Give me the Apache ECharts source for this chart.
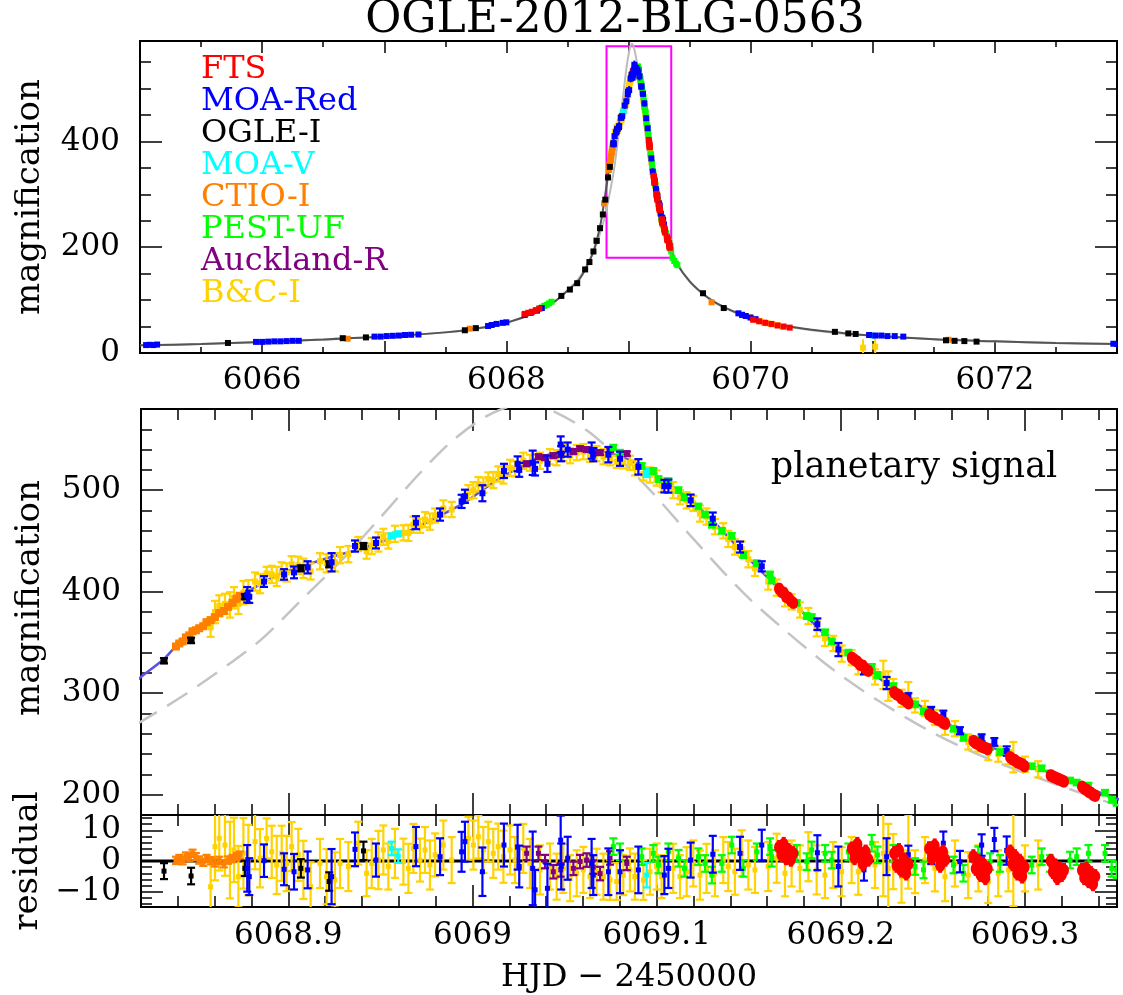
<!DOCTYPE html>
<html>
<head>
<meta charset="utf-8">
<title>OGLE-2012-BLG-0563</title>
<script src="https://cdn.jsdelivr.net/npm/echarts@6.0.0/dist/echarts.min.js"></script>
<style>
  html, body { margin: 0; padding: 0; background: #fff; }
  #chart { width: 1123px; height: 995px; }
</style>
</head>
<body>
<div id="chart"></div>
<script>
// axis ranges
const topT = [6065, 6073];
const topA = [0, 590];
const zoomT = [6068.82, 6069.35];
const zoomA = [180, 580];
const resR = [-15, 15];

// planetary model
const modelT = [6065.0, 6065.5, 6066.0, 6066.5, 6067.0, 6067.5, 6067.75, 6068.0, 6068.25, 6068.4, 6068.5, 6068.6,
  6068.7, 6068.75, 6068.78, 6068.8, 6068.82, 6068.832, 6068.8385, 6068.8557, 6068.8646, 6068.8755, 6068.8863,
  6068.8972, 6068.910, 6068.9227, 6068.937, 6068.950, 6068.9644, 6068.977, 6068.995, 6069.006, 6069.017,
  6069.0314, 6069.044, 6069.0586, 6069.071, 6069.0874, 6069.1057, 6069.1184, 6069.131, 6069.1455, 6069.158,
  6069.171, 6069.1872, 6069.200, 6069.2144, 6069.2325, 6069.2505, 6069.2688, 6069.2868, 6069.3048, 6069.323,
  6069.350, 6069.4, 6069.5, 6069.6, 6069.7, 6069.8, 6069.9, 6070.0, 6070.25, 6070.5, 6070.75, 6071.0, 6071.5,
  6072.0, 6072.5, 6073.0];
const modelA = [14.5, 17, 21, 25.5, 31, 39, 46, 57, 78, 98, 118, 140,
  184, 222, 255, 285, 316, 333, 345, 369, 382, 397, 409,
  419, 426.5, 434, 441, 449, 459, 470, 487, 501, 514,
  528, 536.5, 540.5, 538, 528, 507, 490, 469, 441, 418,
  395, 365, 343, 323, 300, 279, 258, 243, 228, 215,
  196, 168, 136, 114, 97, 85, 75, 67, 53, 44, 38, 33, 26,
  22, 19, 17];

// single-lens (no planet) model
const pointT = [6065.0, 6065.5, 6066.0, 6066.5, 6067.0, 6067.5, 6067.75, 6068.0, 6068.25, 6068.4, 6068.5, 6068.6,
  6068.7, 6068.75, 6068.8, 6068.82, 6068.845, 6068.868, 6068.886, 6068.91, 6068.93, 6068.948, 6068.97, 6068.988,
  6069.004, 6069.016, 6069.028, 6069.04, 6069.062, 6069.082, 6069.098, 6069.117, 6069.147, 6069.171, 6069.196,
  6069.22, 6069.25, 6069.278, 6069.305, 6069.341, 6069.35, 6069.4, 6069.5, 6069.6, 6069.7, 6069.8, 6069.9,
  6070.0, 6070.25, 6070.5, 6070.75, 6071.0, 6071.5, 6072.0, 6072.5, 6073.0];
const pointA = [14.5, 17, 21, 25.5, 31, 39, 46, 57, 78, 98, 118, 143,
  185, 214, 252, 272, 300, 329, 354, 397, 433, 469, 514, 547,
  569, 580, 585, 581, 559, 527, 497, 458, 399, 360, 323,
  293, 261, 237, 218, 195, 190, 167, 135, 113, 96, 84, 74,
  66, 52, 43, 37, 33, 26, 22, 19, 17];

// data inside the zoom window: [HJD-2450000, magnification, error, residual]
const ftsData = [
  [6069.1665, 403, 2, 4.5], [6069.1678, 400, 2, 2.0], [6069.1690, 399, 2, 5.5], [6069.1703, 395, 2, 1.0],
  [6069.1716, 394, 2, 3.5], [6069.1729, 391, 2, 0.5], [6069.1742, 389, 2, 2.5],
  [6069.2060, 335, 2, 4.0], [6069.2075, 333, 2, 1.0], [6069.2090, 331, 2, 5.5], [6069.2105, 328, 2, 2.5],
  [6069.2120, 327, 2, -1.0], [6069.2135, 324, 2, 3.0], [6069.2150, 322, 2, 0.5],
  [6069.2290, 301, 2, 2.5], [6069.2303, 299, 2, -1.5], [6069.2316, 298, 2, 3.5], [6069.2329, 295, 2, -3.0],
  [6069.2342, 294, 2, 0.5], [6069.2355, 292, 2, -4.0], [6069.2368, 290, 2, -1.0],
  [6069.2480, 279, 2, 4.0], [6069.2495, 277, 2, 1.0], [6069.2510, 276, 2, 5.0], [6069.2525, 274, 2, 2.0],
  [6069.2540, 273, 2, -1.5], [6069.2555, 271, 2, 3.0], [6069.2568, 270, 2, 0.5],
  [6069.2720, 253, 2, 1.5], [6069.2733, 251, 2, -2.5], [6069.2746, 250, 2, 0.0], [6069.2759, 248, 2, -4.5],
  [6069.2772, 247, 2, -1.0], [6069.2785, 246, 2, -5.5], [6069.2798, 245, 2, -2.5],
  [6069.2920, 237, 2, 3.0], [6069.2933, 235, 2, -1.0], [6069.2946, 234, 2, 1.5], [6069.2959, 232, 2, -4.0],
  [6069.2972, 231, 2, 0.0], [6069.2985, 230, 2, -5.0], [6069.2998, 228, 2, -2.0],
  [6069.3140, 219, 2, 0.0], [6069.3152, 218, 2, -3.5], [6069.3164, 217, 2, -1.5], [6069.3176, 216, 2, -5.5],
  [6069.3188, 215, 2, -2.5], [6069.3200, 214, 2, -4.5], [6069.3212, 213, 2, -3.0],
  [6069.3310, 208, 2, -3.0], [6069.3322, 206, 2, -5.5], [6069.3334, 205, 2, -2.5], [6069.3346, 203, 2, -6.5],
  [6069.3358, 202, 2, -4.0], [6069.3370, 200, 2, -7.5], [6069.3382, 199, 2, -5.0]
];
const moaRedData = [
  [6068.8777, 397, 7.6, -2.4], [6068.8788, 395, 6.0, -5.1], [6068.8868, 410, 5.3, 0.1], [6068.8977, 417, 5.2, -2.7],
  [6068.9031, 419, 5.8, -3.5], [6068.9105, 424, 6.0, -2.9], [6068.9235, 429, 9.0, -5.1], [6068.9362, 445, 5.5, 3.8],
  [6068.9476, 448, 5.4, 0.3], [6068.9693, 468, 6.4, 4.7], [6068.9824, 476, 6.0, 1.4], [6068.9941, 489, 6.5, 3.0],
  [6068.9959, 494, 6.5, 6.3], [6069.0054, 497, 7.9, -3.5], [6069.0171, 519, 7.0, 5.2], [6069.0245, 526, 7.3, 4.5],
  [6069.0254, 520, 6.8, -1.8], [6069.0327, 527, 12.0, -2.4], [6069.0340, 521, 6.5, -9.4], [6069.0407, 526, 8.0, -8.9],
  [6069.0479, 545, 8.0, 6.8], [6069.0482, 536, 7.5, -1.8], [6069.0517, 540, 7.0, 0.9], [6069.0647, 539, 8.0, -0.8],
  [6069.0656, 535, 6.5, -4.6], [6069.0738, 535, 7.6, -3.5], [6069.0801, 531, 7.0, -3.5], [6069.0901, 523, 7.6, -2.9],
  [6069.1042, 504, 6.2, -4.6], [6069.1064, 504, 6.4, -2.4], [6069.1185, 490, 5.7, 0.3], [6069.1305, 472, 6.0, 2.2],
  [6069.1453, 444, 5.4, 2.5], [6069.1571, 425, 5.0, 5.2], [6069.1873, 368, 5.7, 2.7], [6069.1987, 343, 6.5, -1.8],
  [6069.2126, 322, 3.5, -2.9], [6069.2249, 310, 6.0, 1.4], [6069.2367, 297, 3.0, 2.0], [6069.2491, 283, 3.5, 2.5],
  [6069.2557, 279, 3.8, 5.8], [6069.2647, 263, 3.5, -0.2], [6069.2765, 256, 3.5, 5.2], [6069.2834, 252, 3.8, 7.0],
  [6069.2901, 243, 4.6, 3.4]
];
const ogleData = [
  [6068.8325, 332, 2.6, -3.3], [6068.8472, 352, 2.7, -4.9], [6068.8764, 395, 2.5, -2.4],
  [6068.9068, 423, 3.0, -2.4], [6068.9222, 427, 3.0, -6.7], [6068.9408, 445, 3.0, 3.3]
];
const moaVData = [
  [6068.9561, 455, 2.2, 4.1], [6068.9597, 457, 2.2, 1.6], [6069.0946, 517, 4.0, -4.6]
];
const ctioData = [
  [6068.8390, 346, 1.2, 0.2], [6068.8408, 349, 1.2, 0.8], [6068.8426, 351, 1.2, 0.1], [6068.8444, 355, 1.2, 1.6],
  [6068.8462, 357, 1.2, 1.1], [6068.8480, 361, 1.2, 2.5], [6068.8498, 362, 1.2, 1.4], [6068.8516, 364, 1.2, 0.3],
  [6068.8538, 366, 1.2, -0.4], [6068.8556, 370, 1.2, 0.8], [6068.8578, 372, 1.2, 0.1], [6068.8601, 375, 1.2, -0.6],
  [6068.8625, 379, 1.2, 0.2], [6068.8650, 381, 1.2, -0.9], [6068.8673, 385, 1.2, 0.3], [6068.8697, 389, 1.2, 0.8],
  [6068.8719, 393, 1.2, 1.4], [6068.8737, 396, 1.2, 1.9]
];
const pestData = [
  [6069.0765, 542, 2.7, 4.7], [6069.0801, 537, 2.7, 3.0], [6069.0919, 524, 2.7, 1.4], [6069.0982, 519, 2.7, 2.5],
  [6069.1010, 511, 2.7, -1.3], [6069.1064, 509, 2.7, 3.0], [6069.1119, 500, 2.7, 0.9], [6069.1151, 493, 2.7, -2.4],
  [6069.1227, 484, 2.7, 1.4], [6069.1263, 476, 2.7, -0.8], [6069.1300, 466, 2.7, -4.6], [6069.1354, 460, 2.7, -0.8],
  [6069.1408, 455, 2.7, 5.2], [6069.1471, 436, 2.7, -2.4], [6069.1544, 428, 2.7, 3.0], [6069.1616, 417, 2.7, 4.7],
  [6069.1625, 411, 2.7, 0.9], [6069.1761, 389, 2.7, 2.5], [6069.1815, 376, 2.7, -0.2], [6069.1842, 375, 2.7, 3.6],
  [6069.1915, 360, 2.7, 2.5], [6069.1951, 351, 2.7, 0.3], [6069.2041, 340, 2.7, 3.0], [6069.2168, 326, 2.7, 5.8],
  [6069.2199, 318, 2.7, 2.0], [6069.2286, 307, 2.7, 2.5], [6069.2403, 289, 2.7, -1.8], [6069.2449, 282, 2.7, -2.9],
  [6069.2612, 265, 2.7, -1.3], [6069.2666, 256, 2.7, -4.0], [6069.2747, 254, 2.7, 2.0], [6069.2811, 247, 2.7, -0.2],
  [6069.2865, 242, 2.7, -0.8], [6069.2983, 231, 2.7, -2.4], [6069.3037, 228, 2.7, -1.3], [6069.3091, 226, 2.7, 1.4],
  [6069.3136, 221, 2.7, -0.8], [6069.3245, 214, 2.7, 0.3], [6069.3281, 212, 2.7, 1.4], [6069.3345, 209, 2.7, 2.5],
  [6069.3435, 202, 2.7, 2.5], [6069.3471, 195, 2.7, -2.4], [6069.3498, 192, 2.7, -2.9]
];
const aucklandData = [
  [6069.0294, 526, 2.2, 2.5], [6069.0358, 533, 2.2, 2.5], [6069.0394, 532, 2.2, -0.2], [6069.0439, 534, 2.2, -3.5],
  [6069.0479, 535, 2.2, -2.9], [6069.0548, 538, 2.2, -2.4], [6069.0584, 541, 2.2, -0.2], [6069.0620, 540, 2.2, 0.3],
  [6069.0656, 539, 2.2, -2.0], [6069.0693, 537, 2.2, -4.1], [6069.0747, 540, 2.2, 1.0], [6069.0838, 536, 2.2, -0.8]
];
const bcData = [
  [6068.8578, 365, 9.5, -8.4], [6068.8602, 380, 11.0, 4.7], [6068.8625, 386, 10.5, 7.4], [6068.8656, 388, 10.0, 5.2],
  [6068.8683, 387, 12.5, 0.3], [6068.8705, 394, 10.5, 3.6], [6068.8729, 388, 10.0, -5.1], [6068.8756, 399, 11.5, 2.5],
  [6068.8783, 400, 11.5, 0.3], [6068.8819, 410, 9.0, 6.3], [6068.8846, 408, 9.5, 0.9], [6068.8882, 418, 6.5, 7.4],
  [6068.8910, 417, 8.5, 3.0], [6068.8937, 415, 9.5, -1.3], [6068.8964, 420, 9.0, 2.5], [6068.8991, 419, 9.0, -0.8],
  [6068.9018, 427, 8.0, 4.7], [6068.9054, 426, 8.5, 2.0], [6068.9082, 423, 9.5, -2.9], [6068.9121, 420, 8.0, -8.4],
  [6068.9172, 430, 8.0, -0.8], [6068.9208, 428, 9.0, -5.1], [6068.9253, 429, 9.0, -6.2], [6068.9281, 436, 8.0, -0.8],
  [6068.9326, 437, 8.0, -1.8], [6068.9380, 447, 7.0, 5.8], [6068.9425, 440, 7.5, -4.0], [6068.9453, 445, 8.0, -0.8],
  [6068.9489, 449, 9.5, 0.3], [6068.9516, 454, 8.0, 3.6], [6068.9543, 450, 7.5, -1.8], [6068.9579, 457, 8.0, 2.5],
  [6068.9625, 458, 7.5, -0.2], [6068.9652, 458, 8.0, -2.4], [6068.9679, 466, 8.0, 4.1], [6068.9715, 465, 7.0, 0.3],
  [6068.9742, 471, 7.5, 3.6], [6068.9769, 469, 8.0, -1.3], [6068.9797, 475, 7.0, 2.0], [6068.9842, 482, 8.0, 5.2],
  [6068.9887, 481, 7.5, 0.3], [6068.9978, 498, 7.0, 7.4], [6069.0005, 500, 8.0, 5.2], [6069.0032, 506, 7.0, 7.9],
  [6069.0059, 505, 7.5, 3.6], [6069.0086, 511, 6.5, 6.3], [6069.0113, 510, 8.0, 2.5], [6069.0140, 516, 7.5, 4.7],
  [6069.0168, 515, 8.5, 1.4], [6069.0204, 522, 8.0, 3.6], [6069.0231, 521, 7.5, 0.3], [6069.0276, 529, 8.0, 4.1],
  [6069.0312, 527, 8.0, -0.8], [6069.0367, 529, 8.0, -2.9], [6069.0421, 533, 7.5, -1.8], [6069.0457, 532, 7.5, -5.1],
  [6069.0493, 537, 8.0, -2.4], [6069.0530, 534, 7.5, -5.6], [6069.0566, 537, 7.5, -4.0], [6069.0602, 538, 7.5, -2.9],
  [6069.0638, 535, 7.0, -5.1], [6069.0674, 536, 7.5, -3.5], [6069.0711, 533, 7.5, -5.1], [6069.0747, 531, 6.5, -6.2],
  [6069.0783, 528, 6.0, -6.7], [6069.0819, 528, 6.5, -4.6], [6069.0855, 527, 7.0, -2.9], [6069.0882, 522, 7.5, -5.1],
  [6069.0928, 516, 6.5, -6.2], [6069.0964, 515, 7.5, -3.5], [6069.1000, 512, 7.5, -1.8], [6069.1027, 505, 7.0, -5.1],
  [6069.1090, 500, 8.0, -2.4], [6069.1127, 493, 7.0, -5.1], [6069.1163, 490, 8.0, -3.5], [6069.1199, 487, 7.5, -0.8],
  [6069.1235, 477, 8.0, -4.6], [6069.1271, 474, 8.0, -2.4], [6069.1317, 464, 7.5, -4.0], [6069.1362, 460, 7.5, 0.3],
  [6069.1389, 452, 8.0, -1.8], [6069.1425, 444, 7.5, -3.5], [6069.1462, 442, 7.5, 2.5], [6069.1498, 432, 8.0, -1.3],
  [6069.1534, 423, 7.5, -2.9], [6069.1606, 410, 8.0, -1.8], [6069.1652, 404, 8.0, 0.9], [6069.1697, 393, 7.5, -4.0],
  [6069.1733, 390, 7.5, -0.8], [6069.1778, 382, 7.5, -2.4], [6069.1824, 376, 8.0, 1.4], [6069.1869, 364, 8.0, -2.9],
  [6069.1914, 354, 7.5, -4.6], [6069.1959, 349, 7.5, -1.3], [6069.2005, 339, 8.0, -3.5], [6069.2059, 335, 7.5, 0.3],
  [6069.2095, 326, 7.5, -3.5], [6069.2186, 316, 7.5, -1.3], [6069.2231, 318, 14.0, 2.5], [6069.2258, 307, 14.5, -2.4],
  [6069.2285, 305, 9.0, -0.2], [6069.2330, 295, 8.5, -5.1], [6069.2367, 299, 12.0, 3.0], [6069.2403, 288, 7.0, -3.5],
  [6069.2457, 285, 7.5, 0.3], [6069.2511, 276, 7.5, -2.4], [6069.2566, 267, 8.0, -5.1], [6069.2620, 265, 7.5, -0.8],
  [6069.2692, 252, 7.5, -4.6], [6069.2747, 250, 7.5, -2.4], [6069.2801, 241, 7.0, -6.7], [6069.2855, 240, 7.5, -4.0],
  [6069.2910, 237, 7.0, -2.9], [6069.2937, 237, 15.0, 0.3], [6069.3000, 230, 7.5, -2.4], [6069.3072, 225, 8.0, -1.3]
];

// data outside the zoom window (top panel only): [HJD-2450000, magnification, error]
const ftsWide = [
  [6068.15, 74, 1], [6068.18, 76, 1], [6068.21, 78, 1], [6068.24, 81, 1], [6068.27, 84, 1],
  [6070.02, 63, 1], [6070.07, 60, 1], [6070.12, 57, 1], [6070.17, 55, 1], [6070.22, 52, 1], [6070.27, 50, 1], [6070.32, 48, 1]
];
const moaRedWide = [
  [6065.05, 15, 1], [6065.08, 15.5, 1], [6065.11, 15, 1], [6065.14, 16, 1],
  [6065.95, 21, 1], [6066.0, 21, 1], [6066.05, 21.5, 1], [6066.1, 22, 1], [6066.15, 22, 1], [6066.2, 22.5, 1], [6066.25, 23, 1], [6066.3, 23, 1],
  [6066.92, 31, 1], [6066.97, 31, 1], [6067.02, 32, 1], [6067.07, 32.5, 1], [6067.12, 33, 1], [6067.17, 34, 1], [6067.22, 34.5, 1], [6067.28, 35, 1],
  [6067.85, 51, 1], [6067.88, 53, 1], [6067.92, 55, 1], [6067.97, 57, 1], [6068.0, 58, 1],
  [6068.15, 72, 1], [6068.2, 76, 1], [6068.25, 80, 1], [6068.29, 85, 1],
  [6069.9, 75, 1], [6069.93, 72, 1], [6069.96, 70, 1], [6070.0, 67, 1], [6070.04, 64, 1],
  [6070.97, 34, 1], [6071.02, 33, 1], [6071.07, 33, 1], [6071.12, 32, 1], [6071.18, 32, 1], [6071.25, 31, 1],
  [6072.97, 17.5, 1], [6073.0, 17, 1]
];
const ogleWide = [
  [6065.72, 19, 1], [6066.66, 28, 1], [6066.85, 29.5, 1], [6067.66, 43, 1], [6067.75, 47, 1], [6068.45, 108, 1.5],
  [6068.52, 120, 1.5], [6068.58, 132, 1.5], [6068.645, 158, 2], [6068.68, 172, 2], [6068.713, 192, 2], [6068.74, 212, 2],
  [6068.767, 236, 2], [6068.79, 262, 2], [6068.81, 290, 2], [6069.61, 113, 1.5], [6069.78, 85, 1.5], [6070.69, 40, 1],
  [6070.8, 37, 1], [6070.86, 36, 1], [6071.6, 24, 1], [6071.67, 23, 1], [6071.75, 22.5, 1], [6071.85, 21.5, 1]
];
const moaVWide = [[6071.0, 33, 2]];
const ctioWide = [[6066.7, 27, 1], [6067.7, 46, 1], [6068.735, 213, 2], [6068.80, 283, 2], [6069.68, 96, 1.5], [6071.62, 25, 1]];
const pestWide = [
  [6068.27, 84, 1.5], [6068.29, 86, 1.5], [6068.31, 89, 1.5], [6068.33, 91, 1.5], [6068.35, 94, 1.5], [6068.37, 97, 1.5],
  [6069.36, 180, 2], [6069.375, 174, 2], [6069.39, 169, 2], [6069.40, 166, 2]
];
const aucklandWide = [];
const bcWide = [
  [6069.93, 73, 5], [6069.96, 70, 5], [6069.99, 68, 5], [6070.02, 64, 5], [6070.05, 62, 5], [6070.08, 60, 5],
  [6070.11, 58, 5], [6070.14, 56, 5], [6070.18, 54, 5], [6070.22, 53, 5], [6070.26, 50, 5],
  [6070.92, 10, 16], [6071.02, 12, 15]
];

const FONT = 'DejaVu Serif';

// legend order
const sets = [
  { name: 'FTS', color: '#ff0000', rows: ftsData, wide: ftsWide, mark: 'circle', size: 10, rsize: 10, cap: 2 },
  { name: 'MOA-Red', color: '#0000ff', rows: moaRedData, wide: moaRedWide, mark: 'rect', size: 6, rsize: 5, cap: 4 },
  { name: 'OGLE-I', color: '#000000', rows: ogleData, wide: ogleWide, mark: 'rect', size: 7, rsize: 5, cap: 4 },
  { name: 'MOA-V', color: '#00ffff', rows: moaVData, wide: moaVWide, mark: 'rect', size: 7, rsize: 5, cap: 4 },
  { name: 'CTIO-I', color: '#ff8000', rows: ctioData, wide: ctioWide, mark: 'rect', size: 8, rsize: 5, cap: 4 },
  { name: 'PEST-UF', color: '#00ff00', rows: pestData, wide: pestWide, mark: 'rect', size: 7, rsize: 5, cap: 4 },
  { name: 'Auckland-R', color: '#800080', rows: aucklandData, wide: aucklandWide, mark: 'rect', size: 7, rsize: 5, cap: 4 },
  { name: 'B&C-I', color: '#ffd200', rows: bcData, wide: bcWide, mark: 'rect', size: 6, rsize: 5, cap: 4 }
];
// drawing order, back to front
const drawOrder = ['B&C-I', 'CTIO-I', 'OGLE-I', 'MOA-V', 'Auckland-R', 'PEST-UF', 'MOA-Red', 'FTS'];

function errorBars(color, mark, size, cap, lw) {
  return function (params, api) {
    const t = api.value(0), v = api.value(1), e = api.value(2);
    const c = api.coord([t, v]);
    const lo = api.coord([t, v - e])[1];
    const hi = api.coord([t, v + e])[1];
    const st = { stroke: color, lineWidth: lw };
    const kids = [];
    if (e > 0) {
      kids.push({ type: 'line', shape: { x1: c[0], y1: lo, x2: c[0], y2: hi }, style: st });
      if (cap > 0) {
        kids.push({ type: 'line', shape: { x1: c[0] - cap, y1: lo, x2: c[0] + cap, y2: lo }, style: st });
        kids.push({ type: 'line', shape: { x1: c[0] - cap, y1: hi, x2: c[0] + cap, y2: hi }, style: st });
      }
    }
    if (mark === 'circle') {
      kids.push({ type: 'ellipse', shape: { cx: c[0], cy: c[1], rx: size / 2, ry: size * 0.62 }, style: { fill: color } });
    } else {
      kids.push({ type: 'rect', shape: { x: c[0] - size / 2, y: c[1] - size / 2, width: size, height: size }, style: { fill: color } });
    }
    return { type: 'group', children: kids };
  };
}

function tickFmt(v) {
  const s = String(+v.toFixed(3));
  return s.replace('-', '\u2212');
}

const labelStyle = { fontFamily: FONT, fontSize: 31, color: '#000' };

function xAxis(grid, range, pos, opts) {
  return Object.assign({
    type: 'value', gridIndex: grid, position: pos, min: range[0], max: range[1],
    axisLine: { show: true, onZero: false, lineStyle: { color: '#000', width: 2 } },
    axisTick: { show: true, inside: true, length: 22, lineStyle: { color: '#000', width: 1.5 } },
    minorTick: { show: true, splitNumber: 5, length: 11, lineStyle: { color: '#000', width: 1.5 } },
    axisLabel: { show: false },
    splitLine: { show: false }
  }, opts);
}
function yAxis(grid, range, pos, opts) {
  return Object.assign({
    type: 'value', gridIndex: grid, position: pos, min: range[0], max: range[1],
    axisLine: { show: true, onZero: false, lineStyle: { color: '#000', width: 2 } },
    axisTick: { show: true, inside: true, length: 22, lineStyle: { color: '#000', width: 1.5 } },
    minorTick: { show: true, splitNumber: 5, length: 11, lineStyle: { color: '#000', width: 1.5 } },
    axisLabel: { show: false },
    splitLine: { show: false }
  }, opts);
}

const topXOpts = {
  interval: 1,
  axisTick: { show: true, inside: true, length: 12, lineStyle: { color: '#000', width: 1.5 } },
  minorTick: { show: true, splitNumber: 2, length: 6, lineStyle: { color: '#000', width: 1.5 } }
};
const topYOpts = {
  interval: 200,
  axisTick: { show: true, inside: true, length: 22, lineStyle: { color: '#000', width: 1.5 } },
  minorTick: { show: true, splitNumber: 4, length: 11, lineStyle: { color: '#000', width: 1.5 } }
};

const xAxes = [
  xAxis(0, topT, 'bottom', Object.assign({}, topXOpts, {
    axisLabel: Object.assign({ show: true, margin: 12, formatter: v => (Math.round(v) % 2 === 0 ? String(Math.round(v)) : '') }, labelStyle)
  })),
  xAxis(0, topT, 'top', topXOpts),
  xAxis(1, zoomT, 'bottom', { splitNumber: 5 }),
  xAxis(1, zoomT, 'top', { splitNumber: 5 }),
  xAxis(2, zoomT, 'bottom', {
    splitNumber: 5,
    axisLabel: Object.assign({ show: true, margin: 13, formatter: tickFmt, showMinLabel: false, showMaxLabel: false }, labelStyle),
    name: 'HJD \u2212 2450000', nameLocation: 'middle', nameGap: 55,
    nameTextStyle: { fontFamily: FONT, fontSize: 32, color: '#000' }
  }),
  xAxis(2, zoomT, 'top', { splitNumber: 5 })
];
const yAxes = [
  yAxis(0, topA, 'left', Object.assign({}, topYOpts, {
    axisLabel: Object.assign({ show: true, margin: 20, showMaxLabel: false }, labelStyle),
    name: 'magnification', nameLocation: 'middle', nameGap: 93, nameRotate: 90,
    nameTextStyle: { fontFamily: FONT, fontSize: 34, color: '#000' }
  })),
  yAxis(0, topA, 'right', topYOpts),
  yAxis(1, zoomA, 'left', {
    splitNumber: 4,
    axisLabel: Object.assign({ show: true, margin: 20, formatter: tickFmt, showMinLabel: false, showMaxLabel: false }, labelStyle)
  }),
  yAxis(1, zoomA, 'right', { splitNumber: 4 }),
  yAxis(2, resR, 'left', {
    splitNumber: 3,
    axisLabel: Object.assign({ show: true, margin: 20, formatter: tickFmt, showMinLabel: false, showMaxLabel: false }, labelStyle),
    name: 'residual', nameLocation: 'middle', nameGap: 93, nameRotate: 90,
    nameTextStyle: { fontFamily: FONT, fontSize: 34, color: '#000' }
  }),
  yAxis(2, resR, 'right', { splitNumber: 3 })
];

const byName = {};
sets.forEach(s => { byName[s.name] = s; });

const series = [];
// top panel: models
series.push({
  type: 'line', xAxisIndex: 0, yAxisIndex: 0, silent: true, showSymbol: false, smooth: 0.3,
  data: pointT.map((t, i) => [t, pointA[i]]),
  lineStyle: { color: '#bcbcbc', width: 2 }, z: 2
});
series.push({
  type: 'line', xAxisIndex: 0, yAxisIndex: 0, silent: true, showSymbol: false, smooth: 0.3,
  data: modelT.map((t, i) => [t, modelA[i]]),
  lineStyle: { color: '#555555', width: 2 }, z: 2,
  markArea: {
    silent: true,
    itemStyle: { color: 'rgba(0,0,0,0)', borderColor: '#ff00ff', borderWidth: 2 },
    data: [[{ xAxis: zoomT[0], yAxis: zoomA[0] }, { xAxis: zoomT[1], yAxis: zoomA[1] }]]
  }
});
// top panel: data
drawOrder.forEach(n => {
  const s = byName[n];
  series.push({
    name: s.name, type: 'custom', xAxisIndex: 0, yAxisIndex: 0, clip: true, z: 3,
    renderItem: errorBars(s.color, 'rect', 6, 0, 2),
    encode: { x: 0, y: 1 },
    data: s.rows.map(r => [r[0], r[1], r[2]]).concat(s.wide)
  });
});
// middle panel: models
series.push({
  type: 'line', xAxisIndex: 2, yAxisIndex: 2, silent: true, showSymbol: false, smooth: 0.3,
  data: pointT.map((t, i) => [t, pointA[i]]),
  lineStyle: { color: '#c4c4c4', width: 2.5, type: [24, 12] }, z: 2
});
series.push({
  type: 'line', xAxisIndex: 2, yAxisIndex: 2, silent: true, showSymbol: false, smooth: 0.3,
  data: modelT.map((t, i) => [t, modelA[i]]),
  lineStyle: { color: '#5a4fe6', width: 2.5 }, z: 2
});
// middle panel: data
drawOrder.forEach(n => {
  const s = byName[n];
  series.push({
    name: s.name, type: 'custom', xAxisIndex: 2, yAxisIndex: 2, clip: true, z: 3,
    renderItem: errorBars(s.color, s.mark, s.size, s.cap, 2.2),
    encode: { x: 0, y: 1 },
    data: s.rows.map(r => [r[0], r[1], r[2]])
  });
});
// residual panel
series.push({
  type: 'line', xAxisIndex: 4, yAxisIndex: 4, silent: true, showSymbol: false,
  data: [[zoomT[0], 0], [zoomT[1], 0]],
  lineStyle: { color: '#000', width: 3 }, z: 2
});
drawOrder.forEach(n => {
  const s = byName[n];
  series.push({
    name: s.name, type: 'custom', xAxisIndex: 4, yAxisIndex: 4, clip: true, z: 3,
    renderItem: errorBars(s.color, s.mark, s.rsize, s.cap, 2.2),
    encode: { x: 0, y: 1 },
    data: s.rows.map(r => [r[0], r[3], r[2]])
  });
});

const chart = echarts.init(document.getElementById('chart'), null, { renderer: 'canvas' });
chart.setOption({
  animation: false,
  backgroundColor: '#fff',
  grid: [
    { left: 140, top: 41, width: 977, height: 312, show: true, borderColor: '#000', borderWidth: 2, backgroundColor: 'transparent' },
    { left: 141, top: 409, width: 976, height: 406, show: true, borderColor: '#000', borderWidth: 2, backgroundColor: 'transparent' },
    { left: 141, top: 815, width: 976, height: 92, show: true, borderColor: '#000', borderWidth: 2, backgroundColor: 'transparent' }
  ],
  legend: {
    orient: 'vertical', left: 196, top: 54, padding: 0, itemGap: 0, itemWidth: 0, itemHeight: 8, icon: 'none',
    selectedMode: false,
    textStyle: { fontFamily: FONT, fontSize: 32, lineHeight: 31.6 },
    data: sets.map(s => ({ name: s.name, textStyle: { color: s.color } }))
  },
  graphic: [
    { type: 'text', x: 615, y: 21, silent: true,
      style: { text: 'OGLE-2012-BLG-0563', fontFamily: FONT, fontSize: 44, fill: '#000', align: 'center', verticalAlign: 'middle', textAlign: 'center', textVerticalAlign: 'middle' } },
    { type: 'text', x: 914, y: 468, silent: true,
      style: { text: 'planetary signal', fontFamily: FONT, fontSize: 35, fill: '#000', align: 'center', verticalAlign: 'middle', textAlign: 'center', textVerticalAlign: 'middle' } },
    { type: 'text', x: 30, y: 598, rotation: Math.PI / 2, silent: true,
      style: { text: 'magnification', fontFamily: FONT, fontSize: 34, fill: '#000', align: 'center', verticalAlign: 'middle', textAlign: 'center', textVerticalAlign: 'middle' } }
  ],
  xAxis: xAxes,
  yAxis: yAxes,
  series: series
});
</script>
</body>
</html>
